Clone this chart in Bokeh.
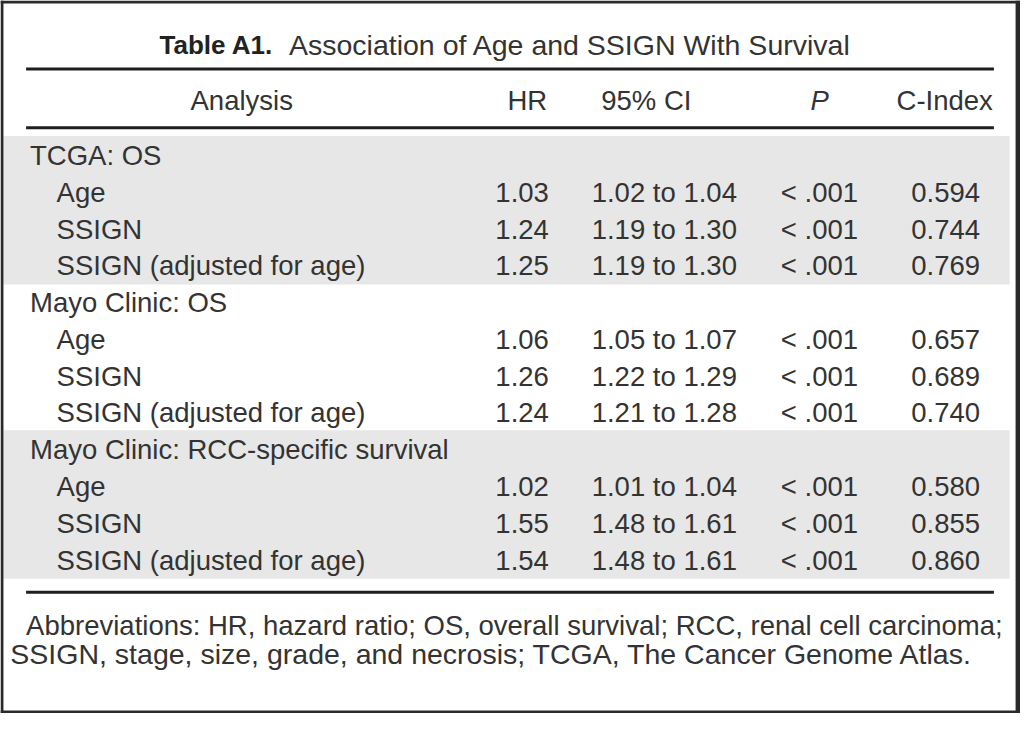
from bokeh.plotting import figure
from bokeh.models import Range1d, ColumnDataSource
from bokeh.core.properties import value
from bokeh.embed import file_html
from bokeh.resources import INLINE

# ---- data ----
title_bold = "Table A1."
title_rest = "Association of Age and SSIGN With Survival"
headers = ["Analysis", "HR", "95% CI", "P", "C-Index"]
groups = ["TCGA: OS", "Mayo Clinic: OS", "Mayo Clinic: RCC-specific survival"]
variables = ["Age", "SSIGN", "SSIGN (adjusted for age)"]
hr = [1.03, 1.24, 1.25, 1.06, 1.26, 1.24, 1.02, 1.55, 1.54]
ci_low = [1.02, 1.19, 1.19, 1.05, 1.22, 1.21, 1.01, 1.48, 1.48]
ci_high = [1.04, 1.30, 1.30, 1.07, 1.29, 1.28, 1.04, 1.61, 1.61]
p_vals = ["< .001"] * 9
c_index = [0.594, 0.744, 0.769, 0.657, 0.689, 0.740, 0.580, 0.855, 0.860]
footnote = [
    "Abbreviations: HR, hazard ratio; OS, overall survival; RCC, renal cell carcinoma;",
    "SSIGN, stage, size, grade, and necrosis; TCGA, The Cancer Genome Atlas.",
]

# ---- layout (reference-pixel coordinates, y downward) ----
FONT = value("Liberation Sans")
TXT = "#333333"
FS = "27.5px"
W, H = 1020, 713
p = figure(width=W, height=H, x_range=Range1d(0, 1036), y_range=Range1d(729, 0),
           output_backend="svg", toolbar_location=None, min_border=0)
p.axis.visible = False
p.grid.visible = False
p.outline_line_color = None
p.background_fill_color = "white"
p.border_fill_color = "white"

row0, pitch = 158.5, 37.6
row_y = [row0 + i * pitch for i in range(12)]

# shaded bands for groups 1 and 3
band_top = [row_y[0] - 20, row_y[8] - 20]
band_bot = [row_y[3] + 19, row_y[11] + 19]
p.quad(left=[3, 3], right=[1025, 1025], top=band_top, bottom=band_bot,
       fill_color="#e6e7e6", line_color=None)

# rules
p.segment(x0=[26, 26, 26], x1=[1009, 1009, 1009], y0=[70, 130, 605], y1=[70, 130, 605],
          line_color="#1e1e1e", line_width=3)

# title
p.text(x=[277], y=[45], text=[title_bold], text_align="right", text_baseline="middle",
       text_font=FONT, text_font_size="26px", text_font_style="bold", text_color="#222222")
p.text(x=[293], y=[45], text=[title_rest], text_align="left", text_baseline="middle",
       text_font=FONT, text_font_size="28.5px", text_color=TXT)

# headers
hx = [245, 535, 656, 832, 959]
for h, x in zip(headers, hx):
    p.text(x=[x], y=[102], text=[h], text_align="center", text_baseline="middle",
           text_font=FONT, text_font_size=FS, text_color=TXT,
           text_font_style="italic" if h == "P" else "normal")

# body
lab_x, lab_y, lab_t = [], [], []
vals = dict(y=[], hr=[], ci=[], p=[], c=[])
k = 0
for g, grp in enumerate(groups):
    lab_x.append(30); lab_y.append(row_y[4 * g]); lab_t.append(grp)
    for v, var in enumerate(variables):
        yy = row_y[4 * g + 1 + v]
        lab_x.append(57); lab_y.append(yy); lab_t.append(var)
        vals["y"].append(yy)
        vals["hr"].append(f"{hr[k]:.2f}")
        vals["ci"].append(f"{ci_low[k]:.2f} to {ci_high[k]:.2f}")
        vals["p"].append(p_vals[k])
        vals["c"].append(f"{c_index[k]:.3f}")
        k += 1

p.text(x=lab_x, y=lab_y, text=lab_t, text_align="left", text_baseline="middle",
       text_font=FONT, text_font_size=FS, text_color=TXT)
src = ColumnDataSource(vals)
for col, xr in [("hr", 557), ("ci", 748), ("p", 871), ("c", 995)]:
    p.text(x=xr, y="y", text=col, source=src, text_align="right", text_baseline="middle",
           text_font=FONT, text_font_size=FS, text_color=TXT)

# footnote
p.text(x=[26], y=[639], text=[footnote[0]], text_align="left", text_baseline="middle",
       text_font=FONT, text_font_size=FS, text_color=TXT)
p.text(x=[10], y=[668], text=[footnote[1]], text_align="left", text_baseline="middle",
       text_font=FONT, text_font_size="28.5px", text_color=TXT)

# frame
p.quad(left=[0, 0, 0, 1031], right=[3, 1036, 1036, 1036], top=[0, 0, 726, 0],
       bottom=[729, 3, 729, 729], fill_color="#2a2a2a", line_color=None)

open("out.html", "w").write(file_html(p, INLINE))
